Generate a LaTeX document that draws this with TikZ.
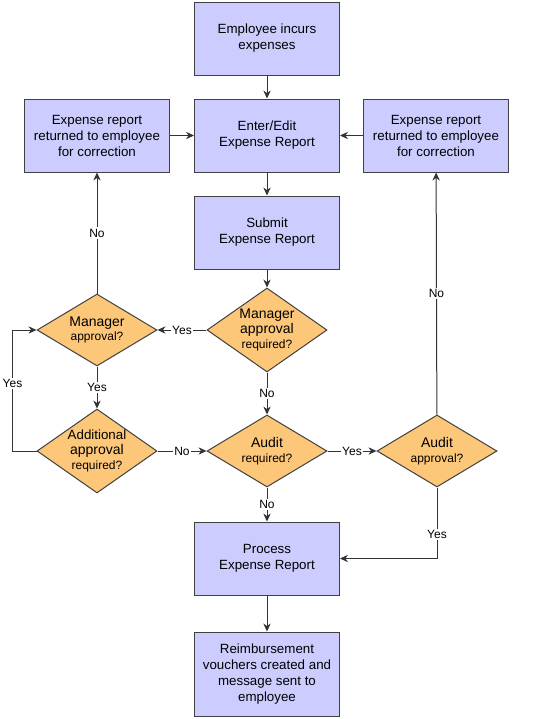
\documentclass[tikz,border=0pt]{standalone}
\usepackage{fontspec}
\setmainfont{Liberation Sans}
\usepackage{xcolor}
\usepackage{tikz}
\usetikzlibrary{positioning,arrows.meta,shapes.geometric}

\definecolor{boxblue}{RGB}{204,204,255}
\definecolor{decorange}{RGB}{252,199,120}
\newcommand{\bw}[1]{{\fontsize{10.5pt}{12pt}\selectfont #1}}

\begin{document}
\begin{tikzpicture}[->, >={Stealth[length=6pt,width=5.5pt]}, line width=0.75pt, draw=black!80, box/.style = {rectangle, draw=black!75, fill=boxblue, minimum width=108.75pt, minimum height=54.75pt, align=center, font=\fontsize{10pt}{12pt}\selectfont}, dec/.style = {diamond, draw=black!75, fill=decorange, aspect=1.6, inner sep=-4pt, minimum width=90pt, minimum height=54pt, align=center, font=\fontsize{9pt}{11pt}\selectfont}, tall/.style={minimum height=63pt}, lbl/.style={fill=white, inner sep=1pt, font=\fontsize{9pt}{11pt}\selectfont}]

\useasboundingbox (0,0) rectangle (418.5pt,-539.25pt);

\node[box] (1) at (200.25pt,-28.875pt) {Employee incurs\\expenses};
\node[box] (2) [below=17.25pt of 1] {Enter/Edit\\Expense Report};
\node[box] (3) [left=18pt of 2] {Expense report\\returned to employee\\for correction};
\node[box] (4) [right=17.25pt of 2] {Expense report\\returned to employee\\for correction};
\node[box] (5) [below=17.25pt of 2] {Submit\\Expense Report};
\node[dec, tall] (6) [below=13.5pt of 5] {\bw{Manager}\\\bw{approval}\\required?};
\node[dec] (7) [left=36.75pt of 6] {\bw{Manager}\\approval?};
\node[dec] (8) [below=31.5pt of 6] {\bw{Audit}\\required?};
\node[dec, tall] (9) [left=36.75pt of 8] {{\fontsize{10pt}{12pt}\selectfont Additional}\\\bw{approval}\\required?};
\node[dec] (10) [right=36.75pt of 8] {\bw{Audit}\\approval?};
\node[box] (11) [below=25.5pt of 8] {Process\\Expense Report};
\node[box, minimum height=63pt] (12) [below=27pt of 11] {Reimbursement\\vouchers created and\\message sent to\\employee};

\path
    (1) edge (2)
    (3) edge (2)
    (4) edge (2)
    (2) edge (5)
    (5) edge (6)
    (6) edge node[lbl]{Yes} (7)
    (6) edge node[lbl]{No} (8)
    (7) edge node[lbl]{No} (3)
    (7) edge node[lbl]{Yes} (9)
    (9) edge node[lbl]{No} (8)
    (8) edge node[lbl]{Yes} (10)
    (8) edge node[lbl]{No} (11)
    (10) edge node[lbl]{No} (4)
    (11) edge (12);

\draw (10) |- node[lbl, pos=0.33]{Yes} (11);
\draw (9.west) -- ++(-18pt,0) |- node[lbl, pos=0.28]{Yes} (7.west);
\end{tikzpicture}
\end{document}
